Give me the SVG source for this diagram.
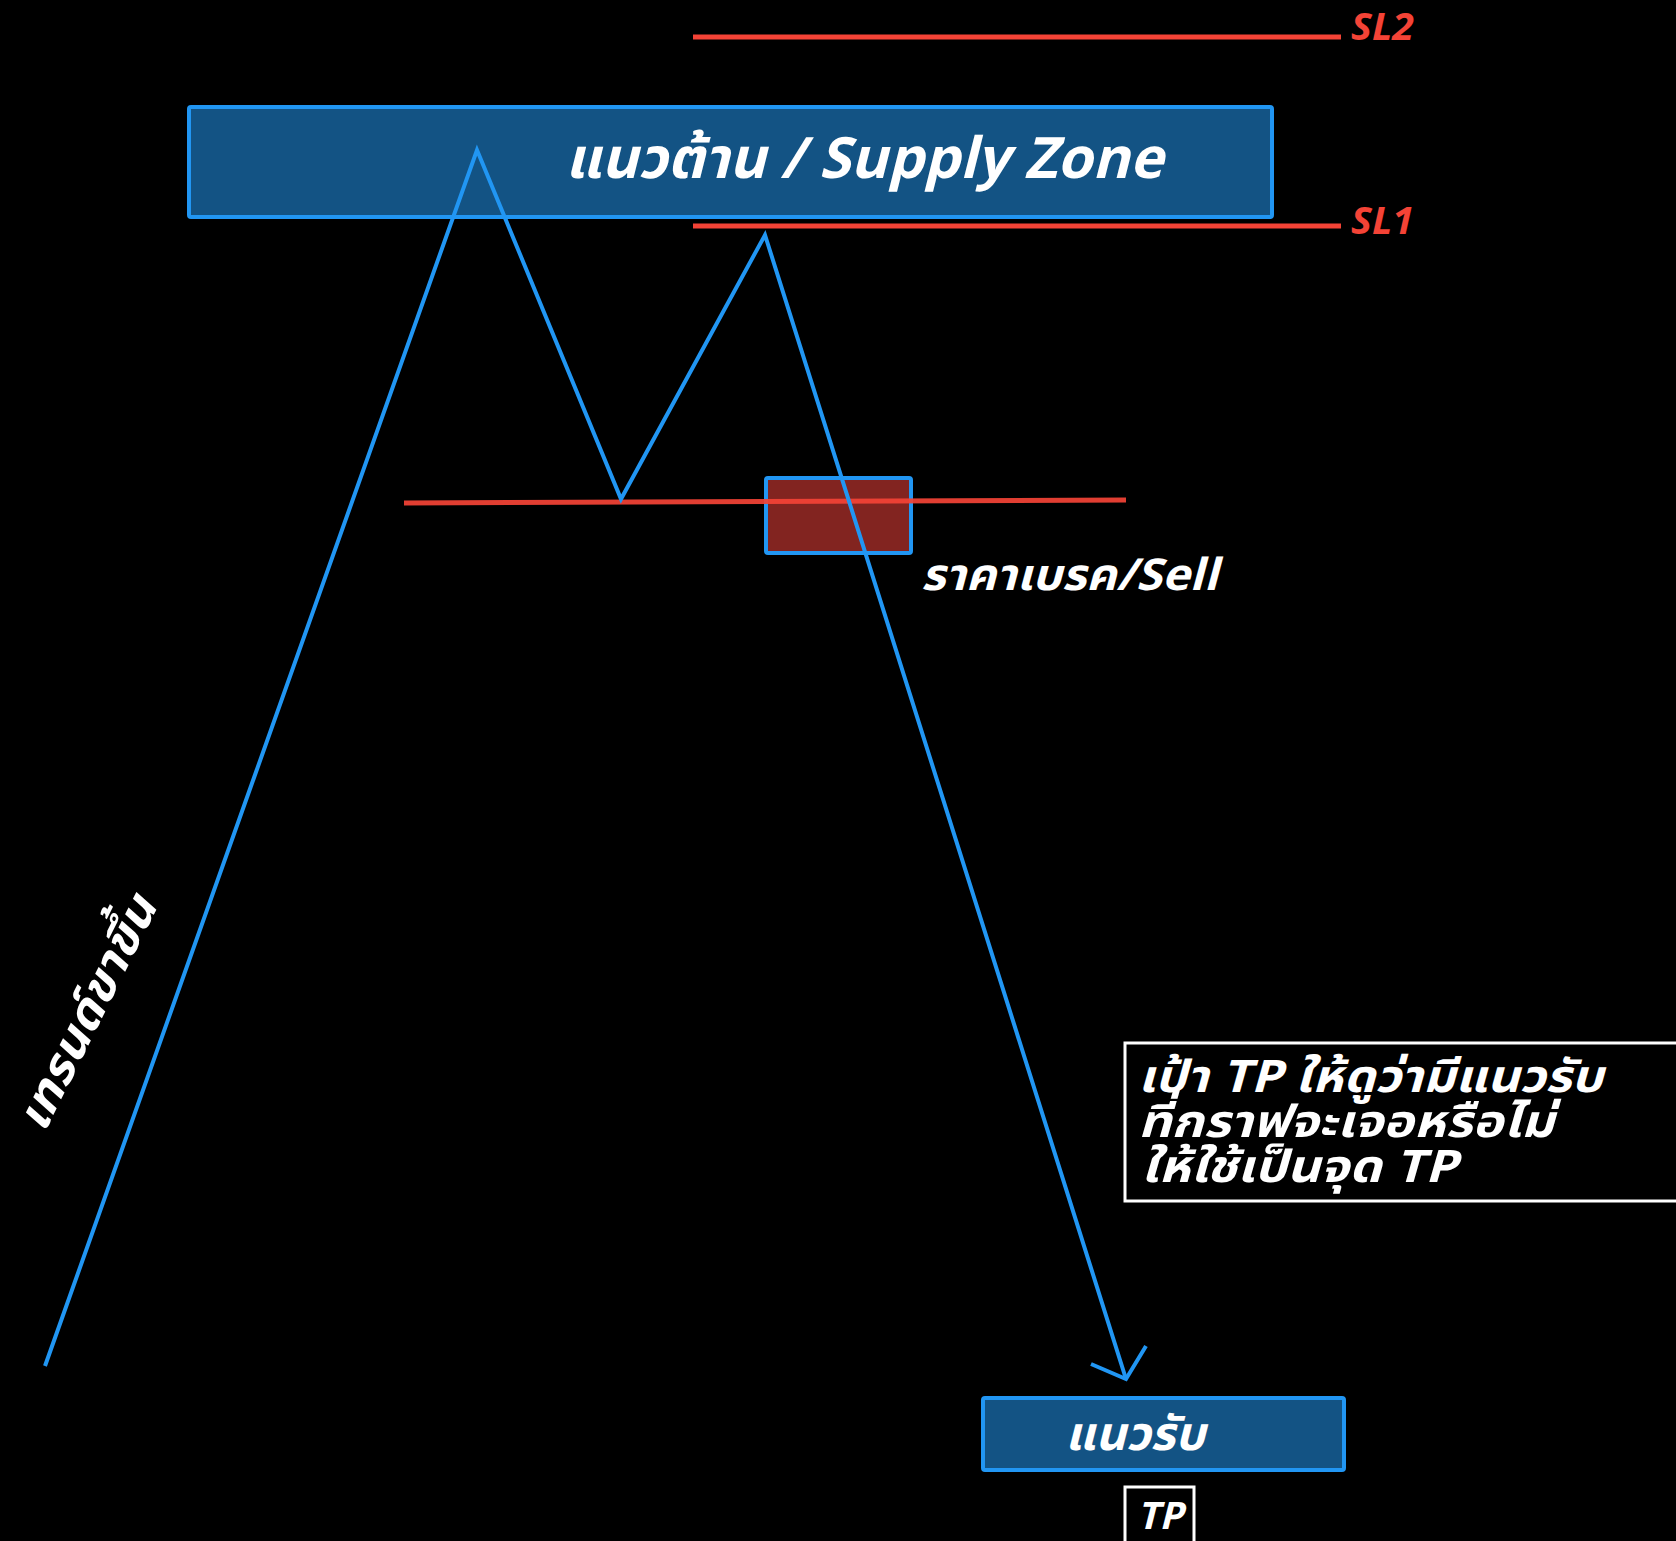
<svg xmlns="http://www.w3.org/2000/svg" width="1676" height="1541" viewBox="0 0 1676 1541">
<style>
.t{font-family:"Noto Sans Thai","Noto Sans","DejaVu Sans",sans-serif;font-style:italic;font-weight:bold;fill:#fff}
.sl{font-family:"Noto Sans","DejaVu Sans",sans-serif;font-style:italic;font-weight:bold;fill:#f44336;font-size:38px}
.red{stroke:#f44336;stroke-width:5;fill:none}
.blue{stroke:#2196f3;stroke-width:4;fill:none;stroke-linejoin:miter}
.zone{fill:#135384;stroke:#2196f3;stroke-width:4}
.wbox{fill:#000;stroke:#fff;stroke-width:3}
</style>
<rect width="1676" height="1541" fill="#000"/>
<g id="supply-zone">
<rect class="zone" x="189" y="107" width="1083" height="110" rx="2"/>
<text class="t" x="864" y="178" font-size="57" text-anchor="middle" textLength="598" lengthAdjust="spacingAndGlyphs">แนวต้าน / Supply Zone</text>
</g>
<g id="sl2">
<line class="red" x1="693" y1="37" x2="1341" y2="37"/>
<text class="sl" x="1351" y="40" textLength="63" lengthAdjust="spacingAndGlyphs">SL2</text>
</g>
<g id="sl1">
<line class="red" x1="693" y1="226" x2="1341" y2="226"/>
<text class="sl" x="1351" y="234" textLength="63" lengthAdjust="spacingAndGlyphs">SL1</text>
</g>
<g id="break-box">
<rect x="766" y="478" width="145" height="75" fill="#822420" stroke="#2196f3" stroke-width="4" rx="2"/>
</g>
<g id="neckline">
<line class="red" x1="404" y1="503" x2="1126" y2="500" opacity="0.92"/>
</g>
<g id="connectors">
<polyline class="blue" points="45,1366 477,150 621,499 765,235 1126,1379"/>
<polyline class="blue" points="1091,1364 1126,1379 1146,1346"/>
</g>
<g id="sell-label">
<text class="t" x="921" y="590" font-size="44" textLength="297" lengthAdjust="spacingAndGlyphs">ราคาเบรค/Sell</text>
</g>
<g id="trend-label">
<text class="t" x="0" y="0" font-size="47" text-anchor="middle" textLength="255" lengthAdjust="spacingAndGlyphs" transform="translate(101,1020) rotate(-63.4)">เทรนด์ขาขึ้น</text>
</g>
<g id="tp-note">
<rect class="wbox" x="1125" y="1043" width="560" height="158"/>
<text class="t" font-size="45"><tspan x="1138" y="1092" textLength="465" lengthAdjust="spacingAndGlyphs">เป้า TP  ให้ดูว่ามีแนวรับ</tspan><tspan x="1138" y="1137" textLength="416" lengthAdjust="spacingAndGlyphs">ที่กราฟจะเจอหรือไม่</tspan><tspan x="1141" y="1182" textLength="316" lengthAdjust="spacingAndGlyphs">ให้ใช้เป็นจุด TP</tspan></text>
</g>
<g id="support-zone">
<rect class="zone" x="983" y="1398" width="361" height="72" rx="2"/>
<text class="t" x="1135" y="1450" font-size="47" text-anchor="middle" textLength="140" lengthAdjust="spacingAndGlyphs">แนวรับ</text>
</g>
<g id="tp-box">
<rect class="wbox" x="1125" y="1487" width="69" height="60"/>
<text class="t" x="1160" y="1529" font-size="38" text-anchor="middle" font-weight="normal">TP</text>
</g>
</svg>
